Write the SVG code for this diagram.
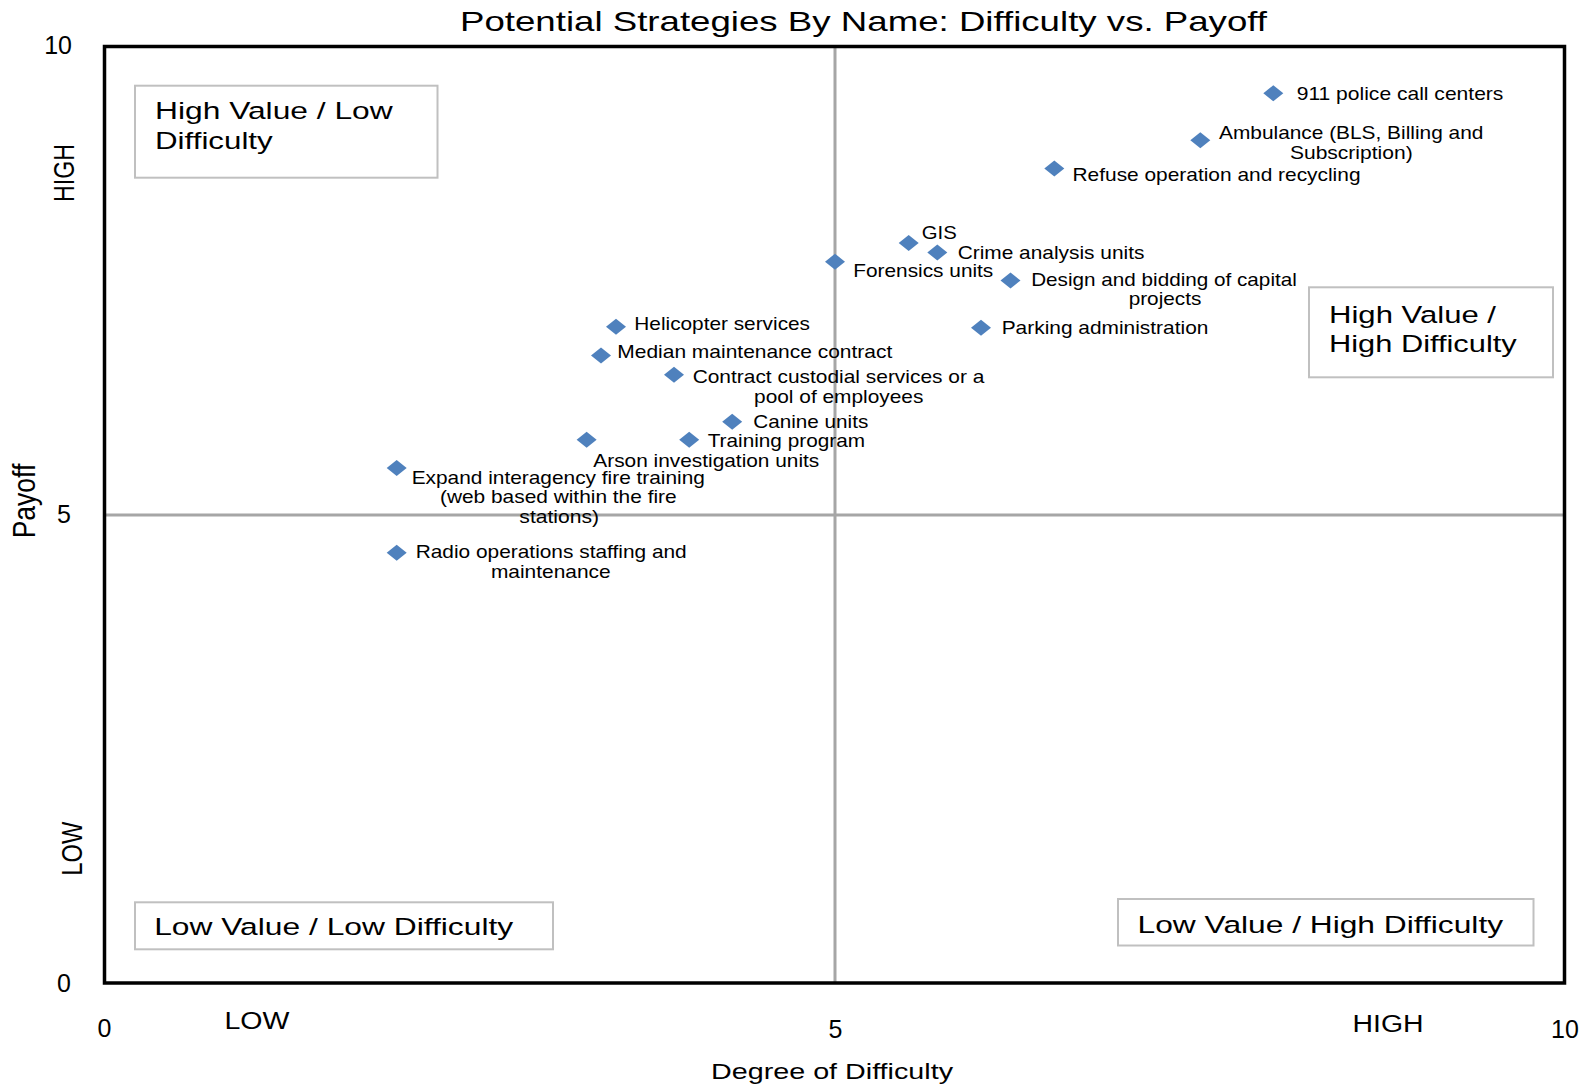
<svg xmlns="http://www.w3.org/2000/svg" width="1591" height="1086" viewBox="0 0 1591 1086">
<style>
text{font-family:"Liberation Sans",Arial,sans-serif;fill:#000}
.lbl{font-size:19px}
.quad{font-size:24.5px}
.num{font-size:25px}
.qbox{fill:#fff;stroke:#c0c0c0;stroke-width:2}
.mid{stroke:#a6a6a6;stroke-width:3;fill:none}
.mk{fill:#4f81bd}
</style>
<defs>
<path id="dia" d="M0,-8 L10,0 L0,8 L-10,0 Z"/>
</defs>
<rect width="1591" height="1086" fill="#fff"/>
<g id="axes">
<line class="mid" x1="835" y1="46.5" x2="835" y2="983"/>
<line class="mid" x1="104.5" y1="515" x2="1564.5" y2="515"/>
<rect x="104.5" y="46.5" width="1460" height="936.5" fill="none" stroke="#000" stroke-width="3.5"/>
<text x="460" y="31" font-size="28" textLength="807" lengthAdjust="spacingAndGlyphs">Potential Strategies By Name: Difficulty vs. Payoff</text>
<text class="num" x="72" y="54" text-anchor="end">10</text>
<text class="num" x="71" y="523" text-anchor="end">5</text>
<text class="num" x="71" y="991.5" text-anchor="end">0</text>
<text class="num" x="104.5" y="1037" text-anchor="middle">0</text>
<text class="num" x="835.5" y="1038" text-anchor="middle">5</text>
<text class="num" x="1565" y="1037.5" text-anchor="middle">10</text>
<text x="224.5" y="1028.5" font-size="23" textLength="65" lengthAdjust="spacingAndGlyphs">LOW</text>
<text x="1352.5" y="1032" font-size="23" textLength="71" lengthAdjust="spacingAndGlyphs">HIGH</text>
<text x="711" y="1079" font-size="22" textLength="242" lengthAdjust="spacingAndGlyphs">Degree of Difficulty</text>
<text transform="translate(34.5,501) scale(1.15,1) rotate(-90)" font-size="26.5" text-anchor="middle">Payoff</text>
<text transform="translate(74,173) scale(1.25,1) rotate(-90)" font-size="23.2" text-anchor="middle">HIGH</text>
<text transform="translate(82,848.7) scale(1.25,1) rotate(-90)" font-size="23.7" text-anchor="middle">LOW</text>
</g>
<g id="quadrant-hv-ld">
<rect class="qbox" x="135" y="85.7" width="302.5" height="92"/>
<text class="quad" x="155" y="119" textLength="237.7" lengthAdjust="spacingAndGlyphs">High Value / Low</text>
<text class="quad" x="155" y="149" textLength="117.7" lengthAdjust="spacingAndGlyphs">Difficulty</text>
</g>
<g id="quadrant-hv-hd">
<rect class="qbox" x="1309" y="287.3" width="244" height="90"/>
<text class="quad" x="1329" y="323.3" textLength="167" lengthAdjust="spacingAndGlyphs">High Value /</text>
<text class="quad" x="1329" y="351.7" textLength="187.7" lengthAdjust="spacingAndGlyphs">High Difficulty</text>
</g>
<g id="quadrant-lv-ld">
<rect class="qbox" x="135" y="902.3" width="418" height="47"/>
<text class="quad" x="154.2" y="935" textLength="359" lengthAdjust="spacingAndGlyphs">Low Value / Low Difficulty</text>
</g>
<g id="quadrant-lv-hd">
<rect class="qbox" x="1118" y="899" width="415.5" height="46.5"/>
<text class="quad" x="1137.6" y="932.7" textLength="365.5" lengthAdjust="spacingAndGlyphs">Low Value / High Difficulty</text>
</g>
<g id="pt-911">
<use href="#dia" class="mk" x="1273.3" y="93.3"/>
<text class="lbl" x="1296.7" y="100" textLength="206.7" lengthAdjust="spacingAndGlyphs">911 police call centers</text>
</g>
<g id="pt-ambulance">
<use href="#dia" class="mk" x="1200.3" y="140.3"/>
<text class="lbl" x="1351.2" y="139" text-anchor="middle" textLength="264.3" lengthAdjust="spacingAndGlyphs">Ambulance (BLS, Billing and</text>
<text class="lbl" x="1351.3" y="159" text-anchor="middle" textLength="122.7" lengthAdjust="spacingAndGlyphs">Subscription)</text>
</g>
<g id="pt-refuse">
<use href="#dia" class="mk" x="1054.3" y="168.4"/>
<text class="lbl" x="1072.5" y="180.7" textLength="288" lengthAdjust="spacingAndGlyphs">Refuse operation and recycling</text>
</g>
<g id="pt-gis">
<use href="#dia" class="mk" x="908.7" y="243"/>
<text class="lbl" x="921.7" y="239.3" textLength="35" lengthAdjust="spacingAndGlyphs">GIS</text>
</g>
<g id="pt-crime">
<use href="#dia" class="mk" x="937.3" y="252.5"/>
<text class="lbl" x="957.7" y="259.3" textLength="186.7" lengthAdjust="spacingAndGlyphs">Crime analysis units</text>
</g>
<g id="pt-forensics">
<use href="#dia" class="mk" x="835" y="261.7"/>
<text class="lbl" x="853.3" y="277.3" textLength="140" lengthAdjust="spacingAndGlyphs">Forensics units</text>
</g>
<g id="pt-design">
<use href="#dia" class="mk" x="1010.5" y="280.5"/>
<text class="lbl" x="1164" y="286" text-anchor="middle" textLength="265.7" lengthAdjust="spacingAndGlyphs">Design and bidding of capital</text>
<text class="lbl" x="1165" y="305" text-anchor="middle" textLength="72.7" lengthAdjust="spacingAndGlyphs">projects</text>
</g>
<g id="pt-parking">
<use href="#dia" class="mk" x="981" y="327.7"/>
<text class="lbl" x="1001.7" y="334" textLength="206.7" lengthAdjust="spacingAndGlyphs">Parking administration</text>
</g>
<g id="pt-helicopter">
<use href="#dia" class="mk" x="616" y="326.7"/>
<text class="lbl" x="634.3" y="330" textLength="175.7" lengthAdjust="spacingAndGlyphs">Helicopter services</text>
</g>
<g id="pt-median">
<use href="#dia" class="mk" x="601" y="355.5"/>
<text class="lbl" x="617.3" y="358.3" textLength="275" lengthAdjust="spacingAndGlyphs">Median maintenance contract</text>
</g>
<g id="pt-custodial">
<use href="#dia" class="mk" x="674" y="374.7"/>
<text class="lbl" x="838.5" y="383.3" text-anchor="middle" textLength="291.7" lengthAdjust="spacingAndGlyphs">Contract custodial services or a</text>
<text class="lbl" x="838.7" y="403.3" text-anchor="middle" textLength="169.3" lengthAdjust="spacingAndGlyphs">pool of employees</text>
</g>
<g id="pt-canine">
<use href="#dia" class="mk" x="732.2" y="421.7"/>
<text class="lbl" x="753.3" y="428" textLength="115" lengthAdjust="spacingAndGlyphs">Canine units</text>
</g>
<g id="pt-training">
<use href="#dia" class="mk" x="689.2" y="439.7"/>
<text class="lbl" x="707.7" y="446.7" textLength="157.3" lengthAdjust="spacingAndGlyphs">Training program</text>
</g>
<g id="pt-arson">
<use href="#dia" class="mk" x="586.6" y="439.7"/>
<text class="lbl" x="706.3" y="466.7" text-anchor="middle" textLength="226" lengthAdjust="spacingAndGlyphs">Arson investigation units</text>
</g>
<g id="pt-expand">
<use href="#dia" class="mk" x="396.7" y="468"/>
<text class="lbl" x="558.3" y="484.3" text-anchor="middle" textLength="293.3" lengthAdjust="spacingAndGlyphs">Expand interagency fire training</text>
<text class="lbl" x="558.3" y="503.3" text-anchor="middle" textLength="236.7" lengthAdjust="spacingAndGlyphs">(web based within the fire</text>
<text class="lbl" x="559.2" y="523.3" text-anchor="middle" textLength="79.7" lengthAdjust="spacingAndGlyphs">stations)</text>
</g>
<g id="pt-radio">
<use href="#dia" class="mk" x="396.7" y="552.7"/>
<text class="lbl" x="551.2" y="558.3" text-anchor="middle" textLength="271" lengthAdjust="spacingAndGlyphs">Radio operations staffing and</text>
<text class="lbl" x="550.8" y="578.3" text-anchor="middle" textLength="119.7" lengthAdjust="spacingAndGlyphs">maintenance</text>
</g>
<g id="connectors"></g>
</svg>
